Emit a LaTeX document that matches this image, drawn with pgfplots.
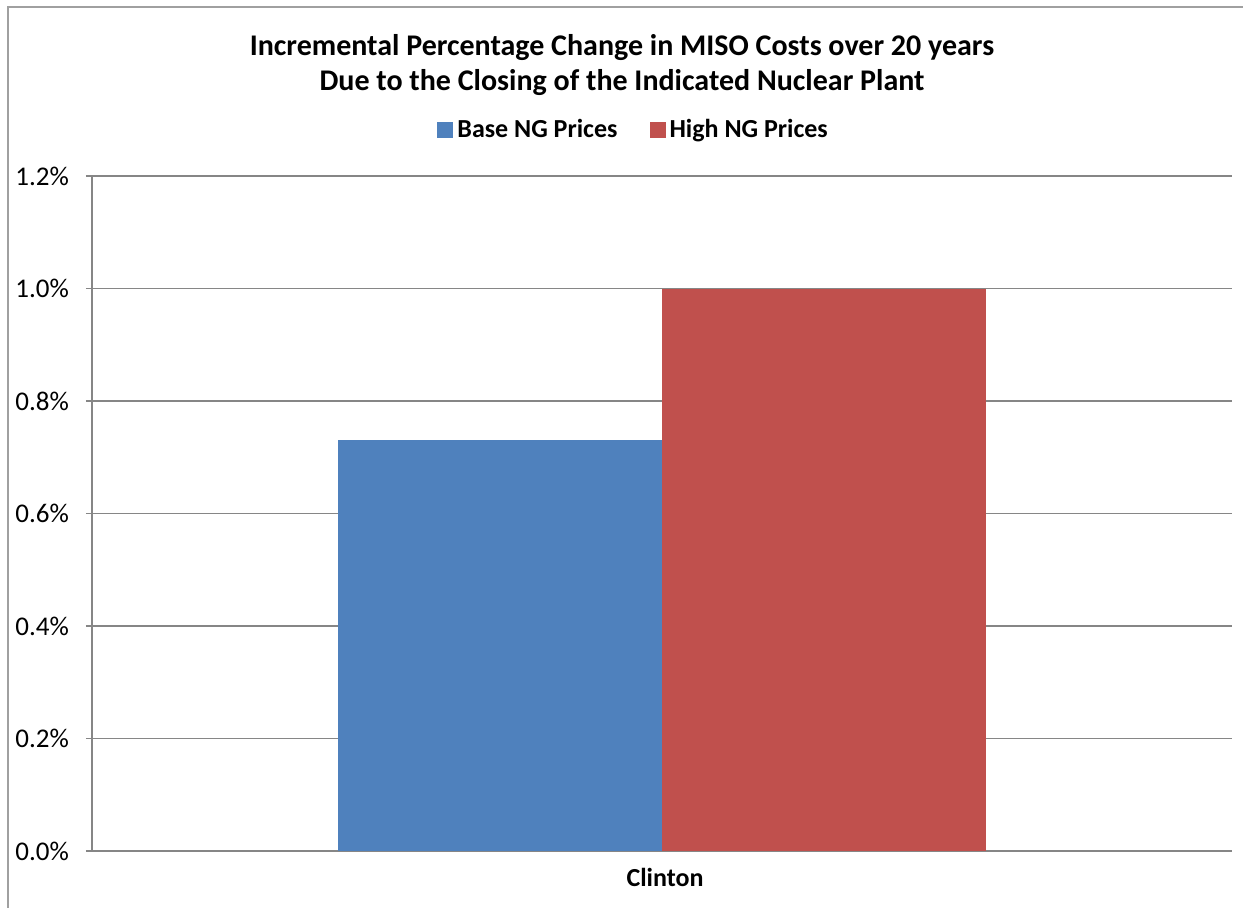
\documentclass[border=0pt]{standalone}
\usepackage{fontspec}
\setmainfont{Carlito}
\usepackage{pgfplots}
\pgfplotsset{compat=1.18}
\definecolor{baseblue}{RGB}{79,129,189}
\definecolor{highred}{RGB}{192,80,77}
\definecolor{gridgray}{RGB}{134,134,134}
\definecolor{framegray}{RGB}{160,160,160}
\begin{document}
\begin{tikzpicture}
% page = 1243 x 907 px at 0.5pt per px
\path[use as bounding box] (0pt,0pt) rectangle (621.5pt,453.5pt);
\draw[framegray, line width=1pt] (4pt,-2pt) -- (4pt,450pt) -- (623pt,450pt);
\node[font=\bfseries\fontsize{15}{17.5}\selectfont, align=center] at (311pt,421pt)
  {Incremental Percentage Change in MISO Costs over 20 years\\
   Due to the Closing of the Indicated Nuclear Plant};
\begin{axis}[
    at={(46pt,28pt)}, anchor=south west,
    scale only axis, width=570pt, height=337.5pt,
    ybar=0pt, bar width=162pt,
    xmin=-1, xmax=1,
    ymin=0, ymax=1.2,
    xtick={0}, xticklabels={Clinton},
    extra x ticks={-1,1}, extra x tick labels={},
    extra x tick style={major tick length=4pt, tick style={gridgray, line width=0.8pt}},
    ytick={0,0.2,0.4,0.6,0.8,1.0,1.2},
    yticklabel={\pgfmathprintnumber[fixed,fixed zerofill,precision=1]{\tick}\%},
    /pgf/number format/assume math mode=true,
    ymajorgrids, grid style={gridgray, line width=0.6pt},
    axis x line*=bottom, axis y line*=left,
    axis line style={gridgray, line width=0.8pt, -},
    tick align=outside, major tick length=3pt,
    xtick style={draw=none},
    ytick style={gridgray, line width=0.8pt},
    tick label style={font=\fontsize{13.5}{15}\selectfont, black},
    xticklabel style={font=\bfseries\fontsize{13}{15}\selectfont, yshift=-2pt, xshift=1.5pt},
    yticklabel style={xshift=-5pt},
    legend columns=2,
    legend style={at={(0.476,1.068)}, anchor=center, draw=none, fill=none,
      font=\bfseries\fontsize{13}{15}\selectfont,
      /tikz/every even column/.append style={column sep=14pt}},
    legend image code/.code={\fill[#1, draw=none] (0pt,-4pt) rectangle (8pt,4pt);},
  ]
  \addplot[fill=baseblue, draw=none] coordinates {(0,0.73)};
  \addplot[fill=highred, draw=none] coordinates {(0,1.00)};
  \legend{Base NG Prices, High NG Prices}
\end{axis}
\end{tikzpicture}
\end{document}
